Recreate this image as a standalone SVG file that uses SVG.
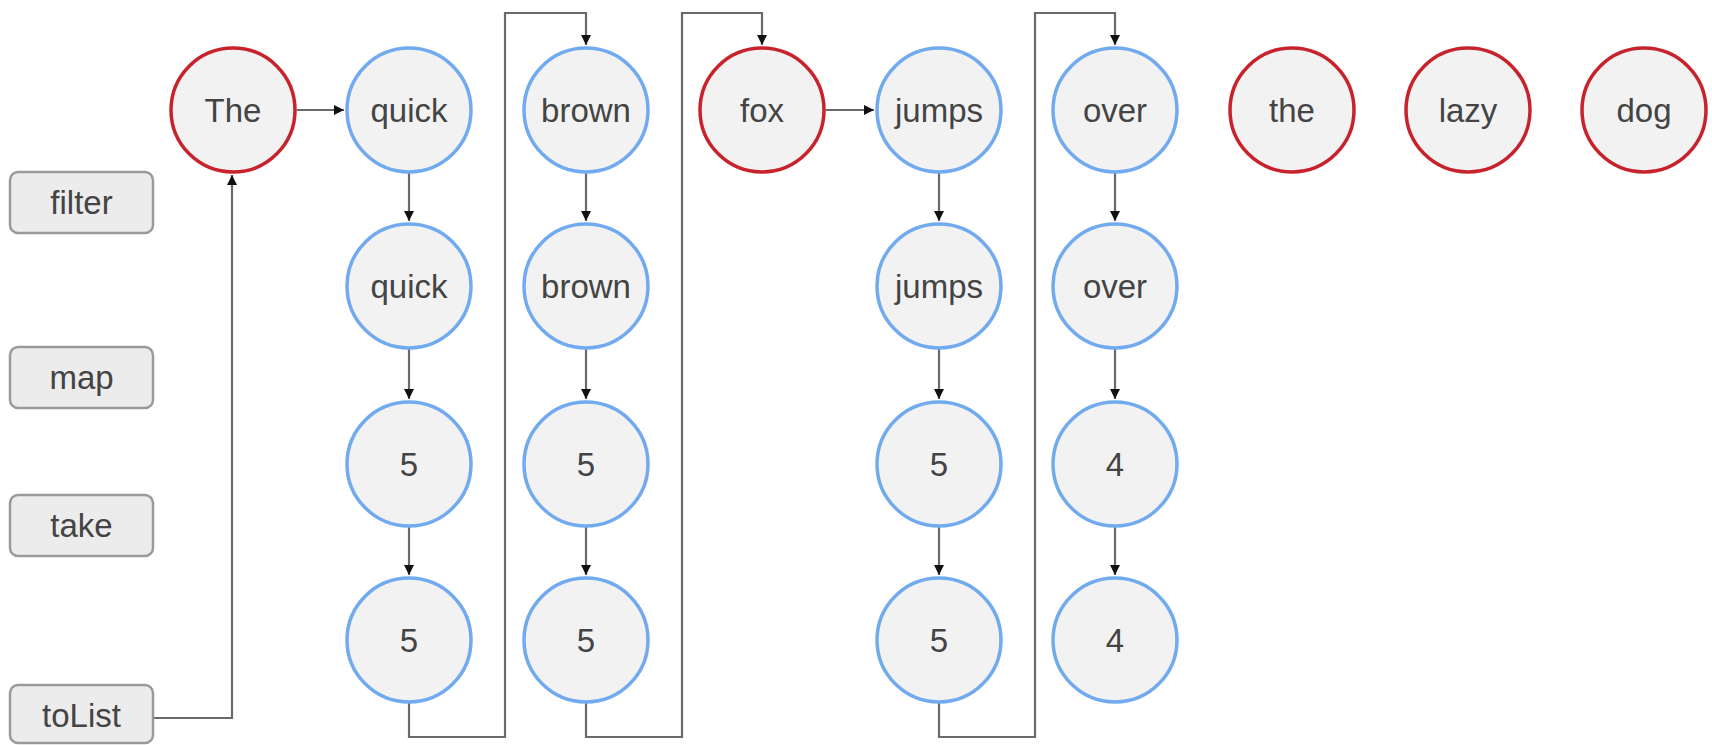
<svg xmlns="http://www.w3.org/2000/svg" width="1712" height="745" viewBox="0 0 1712 745">
<defs>
<style>
.red{fill:#f2f2f2;stroke:#c8232c;stroke-width:3.5}
.blue{fill:#f2f2f2;stroke:#72aaf0;stroke-width:3.5}
.box{fill:#ececec;stroke:#9a9a9a;stroke-width:2.5}
.t{font-family:"Liberation Sans",Arial,sans-serif;font-size:33px;fill:#444;text-anchor:middle}
.c{fill:none;stroke:#6a6a6a;stroke-width:2.2}
</style>
<marker id="ah" viewBox="0 0 10 10" refX="10" refY="5" markerWidth="10" markerHeight="10" markerUnits="userSpaceOnUse" orient="auto">
<path d="M0,0 L10,5 L0,10 z" fill="#111"/>
</marker>
</defs>
<rect width="1712" height="745" fill="#fff"/>
<g id="connectors">
<path class="c" d="M153,718 H232 V175" marker-end="url(#ah)"/>
<path class="c" d="M297,110 H344" marker-end="url(#ah)"/>
<path class="c" d="M826,110 H874" marker-end="url(#ah)"/>
<path class="c" d="M409,173 V221" marker-end="url(#ah)"/>
<path class="c" d="M409,349 V399" marker-end="url(#ah)"/>
<path class="c" d="M409,527 V575" marker-end="url(#ah)"/>
<path class="c" d="M586,173 V221" marker-end="url(#ah)"/>
<path class="c" d="M586,349 V399" marker-end="url(#ah)"/>
<path class="c" d="M586,527 V575" marker-end="url(#ah)"/>
<path class="c" d="M939,173 V221" marker-end="url(#ah)"/>
<path class="c" d="M939,349 V399" marker-end="url(#ah)"/>
<path class="c" d="M939,527 V575" marker-end="url(#ah)"/>
<path class="c" d="M1115,173 V221" marker-end="url(#ah)"/>
<path class="c" d="M1115,349 V399" marker-end="url(#ah)"/>
<path class="c" d="M1115,527 V575" marker-end="url(#ah)"/>
<path class="c" d="M409,703 V737 H505 V13 H586 V45" marker-end="url(#ah)"/>
<path class="c" d="M586,703 V737 H682 V13 H762 V45" marker-end="url(#ah)"/>
<path class="c" d="M939,703 V737 H1035 V13 H1115 V45" marker-end="url(#ah)"/>
</g>
<g id="op-filter"><rect class="box" x="10" y="172" width="143" height="61" rx="8"/><text class="t" x="81.5" y="214">filter</text></g>
<g id="op-map"><rect class="box" x="10" y="347" width="143" height="61" rx="8"/><text class="t" x="81.5" y="389">map</text></g>
<g id="op-take"><rect class="box" x="10" y="495" width="143" height="61" rx="8"/><text class="t" x="81.5" y="537">take</text></g>
<g id="op-toList"><rect class="box" x="10" y="685" width="143" height="58" rx="8"/><text class="t" x="81.5" y="727">toList</text></g>
<g id="n-The"><circle class="red" cx="233" cy="110" r="62"/><text class="t" x="233" y="122">The</text></g>
<g id="n-quick"><circle class="blue" cx="409" cy="110" r="62"/><text class="t" x="409" y="122">quick</text></g>
<g id="n-brown"><circle class="blue" cx="586" cy="110" r="62"/><text class="t" x="586" y="122">brown</text></g>
<g id="n-fox"><circle class="red" cx="762" cy="110" r="62"/><text class="t" x="762" y="122">fox</text></g>
<g id="n-jumps"><circle class="blue" cx="939" cy="110" r="62"/><text class="t" x="939" y="122">jumps</text></g>
<g id="n-over"><circle class="blue" cx="1115" cy="110" r="62"/><text class="t" x="1115" y="122">over</text></g>
<g id="n-the"><circle class="red" cx="1292" cy="110" r="62"/><text class="t" x="1292" y="122">the</text></g>
<g id="n-lazy"><circle class="red" cx="1468" cy="110" r="62"/><text class="t" x="1468" y="122">lazy</text></g>
<g id="n-dog"><circle class="red" cx="1644" cy="110" r="62"/><text class="t" x="1644" y="122">dog</text></g>
<g id="n-quick-f"><circle class="blue" cx="409" cy="286" r="62"/><text class="t" x="409" y="298">quick</text></g>
<g id="n-brown-f"><circle class="blue" cx="586" cy="286" r="62"/><text class="t" x="586" y="298">brown</text></g>
<g id="n-jumps-f"><circle class="blue" cx="939" cy="286" r="62"/><text class="t" x="939" y="298">jumps</text></g>
<g id="n-over-f"><circle class="blue" cx="1115" cy="286" r="62"/><text class="t" x="1115" y="298">over</text></g>
<g id="n-quick-m"><circle class="blue" cx="409" cy="464" r="62"/><text class="t" x="409" y="476">5</text></g>
<g id="n-brown-m"><circle class="blue" cx="586" cy="464" r="62"/><text class="t" x="586" y="476">5</text></g>
<g id="n-jumps-m"><circle class="blue" cx="939" cy="464" r="62"/><text class="t" x="939" y="476">5</text></g>
<g id="n-over-m"><circle class="blue" cx="1115" cy="464" r="62"/><text class="t" x="1115" y="476">4</text></g>
<g id="n-quick-t"><circle class="blue" cx="409" cy="640" r="62"/><text class="t" x="409" y="652">5</text></g>
<g id="n-brown-t"><circle class="blue" cx="586" cy="640" r="62"/><text class="t" x="586" y="652">5</text></g>
<g id="n-jumps-t"><circle class="blue" cx="939" cy="640" r="62"/><text class="t" x="939" y="652">5</text></g>
<g id="n-over-t"><circle class="blue" cx="1115" cy="640" r="62"/><text class="t" x="1115" y="652">4</text></g>
</svg>
